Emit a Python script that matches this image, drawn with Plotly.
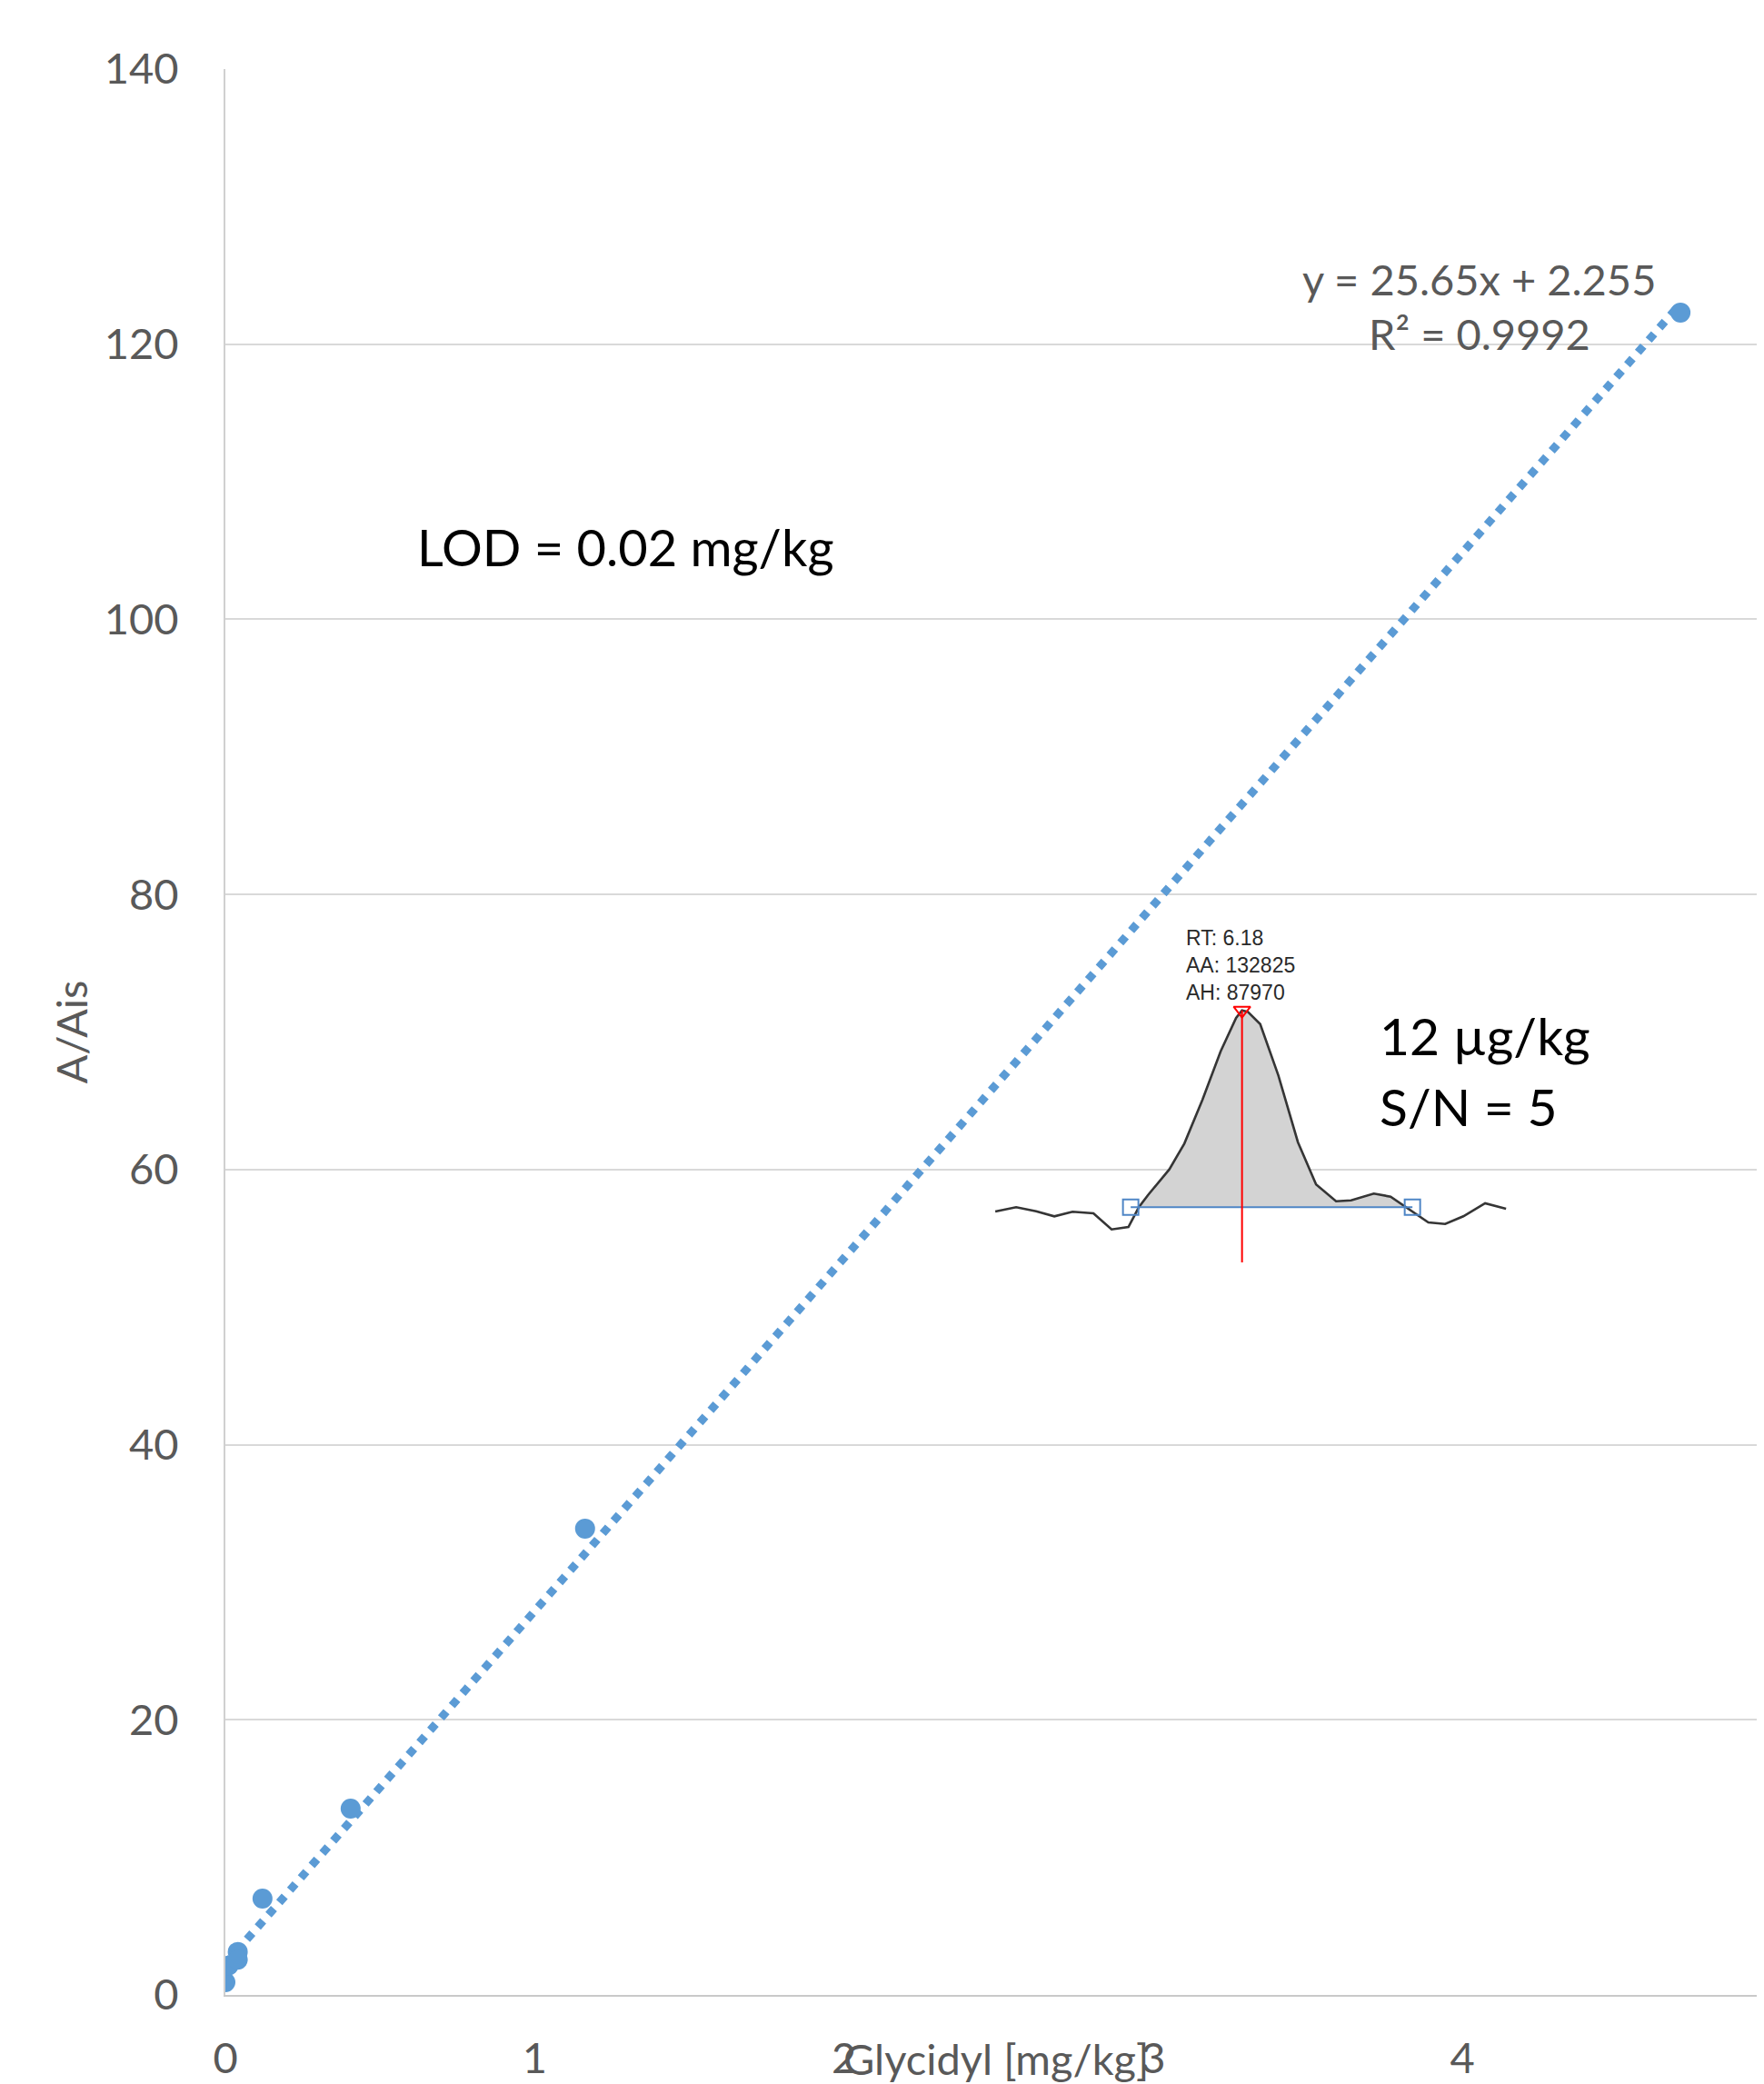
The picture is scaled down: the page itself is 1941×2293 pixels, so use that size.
import numpy as np
import plotly.graph_objects as go

# ---------------- calibration data ----------------
conc = [0.0, 0.01, 0.04, 0.04, 0.12, 0.405, 1.163, 4.705]      # Glycidyl [mg/kg]
ratio = [0.92, 2.13, 3.13, 2.56, 7.0, 13.55, 33.9, 122.3]      # A/Ais

slope = 25.65
intercept = 2.255
r_squared = 0.9992

x_tick_vals = [0, 1, 2, 3, 4]
y_tick_vals = [0, 20, 40, 60, 80, 100, 120, 140]

# ---------------- chromatogram inset (LOD level) ----------------
rt = [5.637, 5.683, 5.727, 5.767, 5.807, 5.853, 5.893, 5.930, 5.953, 5.973,
      6.020, 6.053, 6.093, 6.133, 6.167, 6.180, 6.193, 6.220, 6.260, 6.303,
      6.343, 6.387, 6.420, 6.470, 6.507, 6.547, 6.590, 6.627, 6.667, 6.715, 6.761]
signal = [-1209, 685, -1088, -3345, -1330, -2015, -9148, -8060, 685, 6045,
          17450, 28895, 48360, 69840, 84630, 87970, 87330, 81930, 59120, 29540,
          10760, 3345, 3750, 6730, 5360, 0, -6045, -6730, -3345, 2418, 0]
baseline_rt = [5.935, 6.555]
baseline_signal = [700, 700]
peak_rt = 6.18
peak_area = 132825
peak_height = 87970
peak_marker_bottom = -23800

FONT = "Lato"
GREY_TXT = "#595959"
BLUE = "#5B9BD5"

fig = go.Figure()

# trendline (from the displayed fit)
x_fit = [min(conc), max(conc)]
y_fit = [slope * v + intercept for v in x_fit]
fig.add_trace(go.Scatter(x=x_fit, y=y_fit, mode="lines",
                         line=dict(color=BLUE, width=9, dash="9px,9px"),
                         hoverinfo="skip", showlegend=False))
# data points
fig.add_trace(go.Scatter(x=conc, y=ratio, mode="markers",
                         marker=dict(color=BLUE, size=22),
                         showlegend=False))

# inset: filled peak area
rt_arr = np.array(rt)
sig_arr = np.array(signal)
mask = (rt_arr >= baseline_rt[0]) & (rt_arr <= baseline_rt[1])
fill_x = list(rt_arr[mask]) + [baseline_rt[1], baseline_rt[0]]
fill_y = list(sig_arr[mask]) + [baseline_signal[1], baseline_signal[0]]
fig.add_trace(go.Scatter(x=fill_x, y=fill_y, xaxis="x2", yaxis="y2",
                         mode="lines", fill="toself", fillcolor="#D3D3D3",
                         line=dict(width=0), hoverinfo="skip", showlegend=False))
# chromatogram trace
fig.add_trace(go.Scatter(x=rt, y=signal, xaxis="x2", yaxis="y2", mode="lines",
                         line=dict(color="#353535", width=2.6),
                         hoverinfo="skip", showlegend=False))
# integration baseline
fig.add_trace(go.Scatter(x=baseline_rt, y=baseline_signal, xaxis="x2", yaxis="y2",
                         mode="lines+markers",
                         line=dict(color="#4F86C6", width=2),
                         marker=dict(symbol="square-open", size=17,
                                     color="#4F86C6", line=dict(width=2)),
                         hoverinfo="skip", showlegend=False))
# peak apex marker line
fig.add_trace(go.Scatter(x=[peak_rt, peak_rt], y=[peak_marker_bottom, peak_height],
                         xaxis="x2", yaxis="y2", mode="lines",
                         line=dict(color="#FF0000", width=2),
                         hoverinfo="skip", showlegend=False))
fig.add_trace(go.Scatter(x=[peak_rt], y=[peak_height], xaxis="x2", yaxis="y2",
                         mode="markers",
                         marker=dict(symbol="triangle-down-open", size=16,
                                     color="#FF0000", line=dict(width=2)),
                         hoverinfo="skip", showlegend=False))

annotations = [
    dict(text=f"y = {slope}x + {intercept}", xref="paper", yref="paper",
         x=0.8149, y=0.8912, xanchor="center", yanchor="middle", showarrow=False,
         font=dict(family=FONT, size=47, color=GREY_TXT)),
    dict(text=f"R² = {r_squared}", xref="paper", yref="paper",
         x=0.8153, y=0.8628, xanchor="center", yanchor="middle", showarrow=False,
         font=dict(family=FONT, size=47, color=GREY_TXT)),
    dict(text="LOD = 0.02 mg/kg", xref="paper", yref="paper",
         x=0.1235, y=0.7518, xanchor="left", yanchor="middle", showarrow=False,
         font=dict(family=FONT, size=56, color="#000000")),
    dict(text="12 µg/kg", xref="paper", yref="paper", align="left",
         x=0.7489, y=0.4985, xanchor="left", yanchor="middle", showarrow=False,
         font=dict(family=FONT, size=57, color="#000000")),
    dict(text="S/N = 5", xref="paper", yref="paper", align="left",
         x=0.7489, y=0.4614, xanchor="left", yanchor="middle", showarrow=False,
         font=dict(family=FONT, size=57, color="#000000")),
    dict(text=f"RT: {peak_rt}<br>AA: {peak_area}<br>AH: {peak_height}",
         xref="x2", yref="y2", align="left",
         x=6.0526, y=108000, xanchor="left", yanchor="middle", showarrow=False,
         font=dict(family="Liberation Sans", size=23, color="#2A2A2A")),
    dict(text="Glycidyl [mg/kg]", xref="paper", yref="paper",
         x=0.501, y=-0.033, xanchor="center", yanchor="middle", showarrow=False,
         font=dict(family=FONT, size=47, color=GREY_TXT)),
    dict(text="A/Ais", xref="paper", yref="paper", textangle=-90,
         x=-0.101, y=0.5, xanchor="center", yanchor="middle", showarrow=False,
         font=dict(family=FONT, size=47, color=GREY_TXT)),
    dict(text="5", xref="paper", yref="paper",
         x=1.0041, y=-0.0321, xanchor="center", yanchor="middle", showarrow=False,
         font=dict(family=FONT, size=47, color=GREY_TXT)),
]

# the page body has an 8px margin, so the figure is 8px smaller on each side
fig.update_layout(
    width=1933, height=2285,
    margin=dict(l=240, r=0, t=68, b=98, autoexpand=False),
    paper_bgcolor="white", plot_bgcolor="rgba(0,0,0,0)",
    showlegend=False,
    font=dict(family=FONT, color=GREY_TXT),
    xaxis=dict(range=[0, 4.975], tickvals=x_tick_vals, showgrid=False,
               zeroline=False, showline=True, linecolor="#C9C9C9", linewidth=2,
               ticks="", ticklabelstandoff=28,
               tickfont=dict(family=FONT, size=47, color=GREY_TXT)),
    yaxis=dict(range=[0, 140], tickvals=y_tick_vals, showgrid=True,
               gridcolor="#D9D9D9", gridwidth=2, zeroline=False,
               showline=True, linecolor="#D0D0D0", linewidth=2,
               ticks="", ticklabelstandoff=40,
               tickfont=dict(family=FONT, size=47, color=GREY_TXT)),
    xaxis2=dict(domain=[0.4973, 0.8340], anchor="y2", range=[5.6266, 6.7666],
                visible=False),
    yaxis2=dict(domain=[0.37518, 0.55922], anchor="x2", range=[-28210, 128960],
                visible=False),
    annotations=annotations,
)

fig.write_html("out.html")
